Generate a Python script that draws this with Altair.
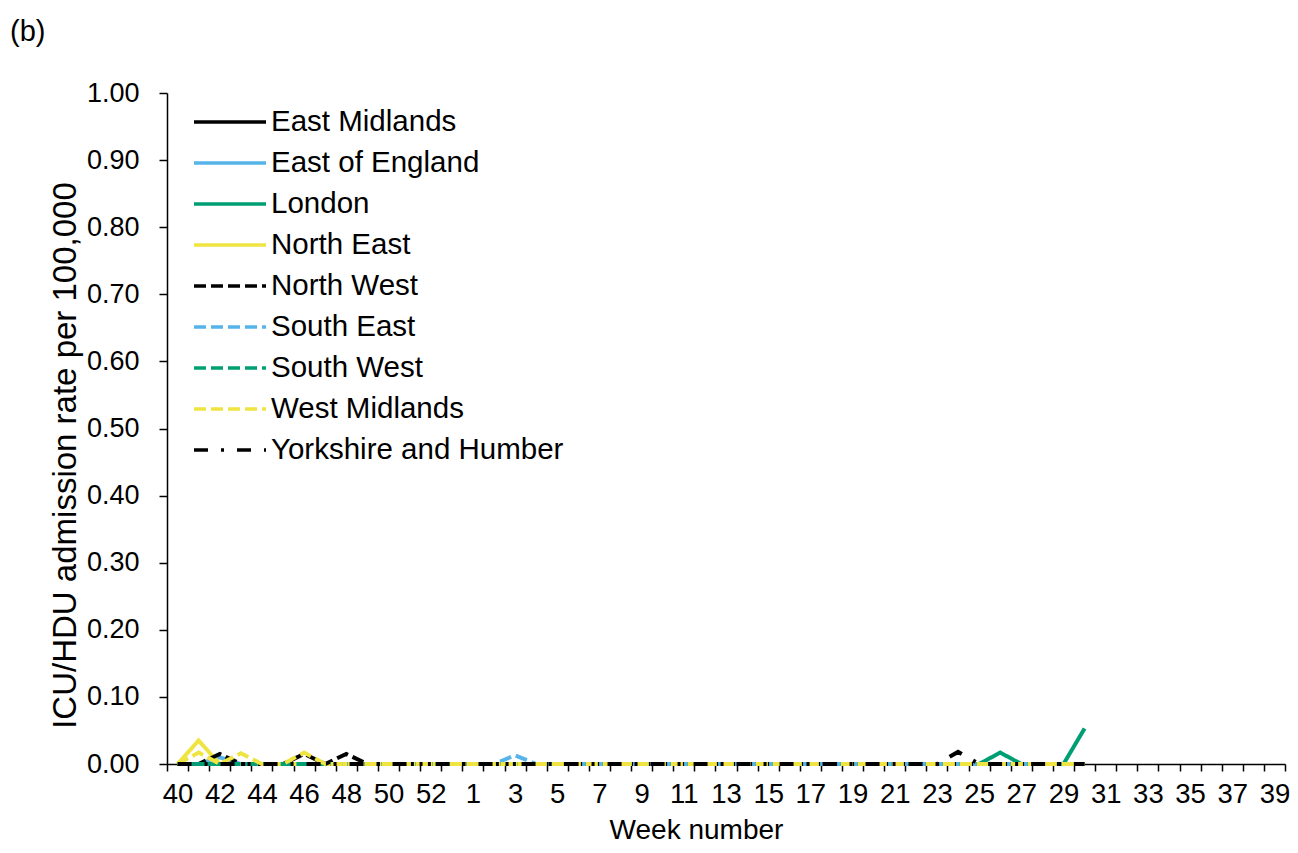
import altair as alt
import pandas as pd

weeks = [str(w) for w in [40, 41, 42, 43, 44, 45, 46, 47, 48, 49, 50, 51, 52, 53,
                          1, 2, 3, 4, 5, 6, 7, 8, 9, 10, 11, 12, 13, 14, 15, 16, 17, 18, 19, 20,
                          21, 22, 23, 24, 25, 26, 27, 28, 29, 30, 31, 32, 33, 34, 35, 36, 37, 38, 39]]
tick_labels = ["40", "42", "44", "46", "48", "50", "52", "1", "3", "5", "7", "9", "11", "13",
               "15", "17", "19", "21", "23", "25", "27", "29", "31", "33", "35", "37", "39"]

regions = ["East Midlands", "East of England", "London", "North East", "North West",
           "South East", "South West", "West Midlands", "Yorkshire and Humber"]

east_midlands = [0, 0, 0, 0, 0, 0, 0, 0, 0, 0, 0,
                 0, 0, 0, 0, 0, 0, 0, 0, 0, 0, 0,
                 0, 0, 0, 0, 0, 0, 0, 0, 0, 0, 0,
                 0, 0, 0, 0, 0, 0, 0, 0, 0, 0, 0]
east_of_england = [0, 0, 0.010, 0, 0, 0, 0, 0, 0, 0, 0,
                   0, 0, 0, 0, 0, 0, 0, 0, 0, 0, 0,
                   0, 0, 0, 0, 0, 0, 0, 0, 0, 0, 0,
                   0, 0, 0, 0, 0, 0, 0, 0, 0, 0, 0]
london = [0, 0, 0, 0, 0, 0, 0, 0, 0, 0, 0,
          0, 0, 0, 0, 0, 0, 0, 0, 0, 0, 0,
          0, 0, 0, 0, 0, 0, 0, 0, 0, 0, 0,
          0, 0, 0, 0, 0, 0, 0.017, 0, 0, 0, 0.053]
north_east = [0, 0.035, 0, 0, 0, 0, 0, 0, 0, 0, 0,
              0, 0, 0, 0, 0, 0, 0, 0, 0, 0, 0,
              0, 0, 0, 0, 0, 0, 0, 0, 0, 0, 0,
              0, 0, 0, 0, 0, 0, 0, 0, 0, 0, 0]
north_west = [0, 0, 0.015, 0, 0, 0, 0.015, 0, 0.015, 0, 0,
              0, 0, 0, 0, 0, 0, 0, 0, 0, 0, 0,
              0, 0, 0, 0, 0, 0, 0, 0, 0, 0, 0,
              0, 0, 0, 0, 0, 0, 0, 0, 0, 0, 0]
south_east = [0, 0, 0, 0, 0, 0, 0, 0, 0, 0, 0,
              0, 0, 0, 0, 0, 0.013, 0, 0, 0, 0, 0,
              0, 0, 0, 0, 0, 0, 0, 0, 0, 0, 0,
              0, 0, 0, 0, 0, 0, 0, 0, 0, 0, 0]
south_west = [0, 0, 0, 0, 0, 0, 0, 0, 0, 0, 0,
              0, 0, 0, 0, 0, 0, 0, 0, 0, 0, 0,
              0, 0, 0, 0, 0, 0, 0, 0, 0, 0, 0,
              0, 0, 0, 0, 0, 0, 0, 0, 0, 0, 0]
west_midlands = [0, 0.017, 0, 0.016, 0, 0, 0.017, 0, 0, 0, 0,
                 0, 0, 0, 0, 0, 0, 0, 0, 0, 0, 0,
                 0, 0, 0, 0, 0, 0, 0, 0, 0, 0, 0,
                 0, 0, 0, 0, 0, 0, 0, 0, 0, 0, 0]
yorkshire = [0, 0, 0, 0, 0, 0, 0, 0, 0, 0, 0,
             0, 0, 0, 0, 0, 0, 0, 0, 0, 0, 0,
             0, 0, 0, 0, 0, 0, 0, 0, 0, 0, 0,
             0, 0, 0, 0, 0.018, 0, 0, 0, 0, 0, 0]

series = [east_midlands, east_of_england, london, north_east, north_west,
          south_east, south_west, west_midlands, yorkshire]

colors = ["#000000", "#56B4E9", "#009E73", "#F0E442",
          "#000000", "#56B4E9", "#009E73", "#F0E442", "#000000"]
dashes = [[1, 0], [1, 0], [1, 0], [1, 0],
          [12, 5], [12, 5], [12, 5], [12, 5], [14, 13, 3, 13]]

rows = []
for reg, vals in zip(regions, series):
    for wk, v in zip(weeks, vals):
        rows.append({"week": wk, "rate": v, "region": reg})
df = pd.DataFrame(rows)

FONT = "Liberation Sans"
label_expr = "indexof(" + str(tick_labels) + ", datum.label) >= 0 ? datum.label : ''"

chart = alt.Chart(df).mark_line(strokeWidth=4).encode(
    x=alt.X("week:O", sort=weeks,
            scale=alt.Scale(type="band", domain=weeks, paddingInner=0, paddingOuter=0),
            axis=alt.Axis(title="Week number", labelExpr=label_expr, labelAngle=0,
                          tickBand="extent", tickSize=7, labelPadding=9,
                          labelFontSize=27.5, titleFontSize=28,
                          titleX=529, titleY=74, titleBaseline="alphabetic")),
    y=alt.Y("rate:Q", scale=alt.Scale(domain=[0, 1]),
            axis=alt.Axis(title="ICU/HDU admission rate per 100,000",
                          values=[0, 0.1, 0.2, 0.3, 0.4, 0.5, 0.6, 0.7, 0.8, 0.9, 1.0],
                          format=".2f", grid=False, tickSize=8, labelPadding=20,
                          labelFontSize=27, titleFontSize=33, titlePadding=4,
                          titleY=362)),
    color=alt.Color("region:N", scale=alt.Scale(domain=regions, range=colors),
                    title=None,
                    legend=alt.Legend(orient="none", legendX=25, legendY=10,
                                      symbolType="stroke", symbolSize=5184,
                                      symbolStrokeWidth=3.5, labelFontSize=29.5,
                                      labelFont=FONT, labelOffset=3, rowPadding=2,
                                      clipHeight=38.2, padding=0, labelLimit=500)),
    strokeDash=alt.StrokeDash("region:N", scale=alt.Scale(domain=regions, range=dashes),
                              title=None),
).properties(
    width=1118, height=671,
    autosize=alt.AutoSizeParams(type="none"),
    padding={"left": 159, "top": 85, "right": 5, "bottom": 81},
    title=alt.TitleParams("(b)", anchor="start", frame="group", dx=-157, offset=9,
                          baseline="alphabetic", fontSize=29, font=FONT,
                          fontWeight="normal", color="black"),
).configure_view(stroke=None).configure_axis(
    domainColor="black", tickColor="black", labelColor="black", titleColor="black",
    labelFont=FONT, titleFont=FONT, titleFontWeight="normal", domainWidth=1.5, tickWidth=1.5
)

chart.save("out.html", embed_options={"renderer": "svg", "actions": False})
